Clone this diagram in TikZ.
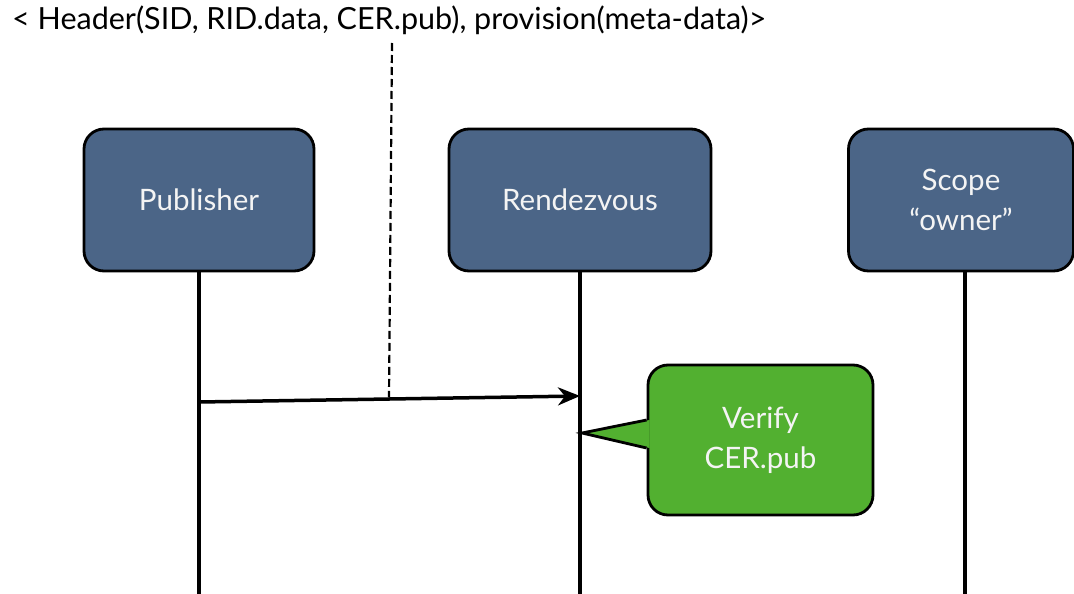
\documentclass[tikz,border=0pt]{standalone}
\usepackage{fontspec}
\setmainfont{Lato}
\usetikzlibrary{arrows.meta}

\definecolor{actorblue}{HTML}{4B6587}
\definecolor{notegreen}{HTML}{52B030}
\definecolor{labelwhite}{HTML}{F4F4F4}

\begin{document}
\begin{tikzpicture}[x=1pt,y=-1pt,
  actor/.style={draw=black,line width=2.8pt,fill=actorblue,rounded corners=20pt,
    minimum height=142pt,text=labelwhite,align=center,
    font=\fontsize{29.5}{40}\selectfont},
  note/.style={draw=black,line width=2.8pt,fill=notegreen,rounded corners=20pt,
    minimum width=225pt,minimum height=150pt,text=labelwhite,align=center,
    font=\fontsize{29.5}{40}\selectfont},
  lifeline/.style={line width=3.5pt},
  msg/.style={line width=3.5pt,-{Stealth[length=22pt,width=18pt,inset=7pt]}},
  tag/.style={line width=2.2pt,dash pattern=on 8pt off 4pt}]

\useasboundingbox (0,0) rectangle (1074,594);

% title line
\node[anchor=base west,inner sep=0pt,font=\fontsize{30.5}{34}\selectfont] (title)
  at (12,30) {< Header(SID, RID.data, CER.pub), provision(meta-data)>};

% participants
\node[actor,minimum width=230pt] (pub) at (199,200) {Publisher};
\node[actor,minimum width=262pt] (rdv) at (580,200) {Rendezvous};
\node[actor,minimum width=225pt] (scope) at (961,200) {Scope\\“owner”};

% lifeline ends
\coordinate (pubend) at (199,594);
\coordinate (rdvend) at (580,594);
\coordinate (scopeend) at (965,594);

\draw[lifeline] (pub.south) -- (pubend);
\draw[lifeline] (rdv.south) -- (rdvend);
\draw[lifeline] (scope.south -| scopeend) -- (scopeend);

% message
\coordinate (msgstart) at (199,402);
\coordinate (msgend) at (580,396);
\coordinate (msgmid) at (389,397.5);
\coordinate (tagtop) at (392,43);
\draw[msg] (msgstart) -- (msgend);
\draw[tag] (tagtop) -- (msgmid);

% verification note with pointer
\node[note] (verify) at (760.5,440) {Verify\\CER.pub};
\coordinate (tip) at (582,433);
\coordinate (ptrtop) at (verify.west |- 0,420);
\coordinate (ptrbot) at (verify.west |- 0,448);
\fill[notegreen] (tip) -- ([xshift=3pt]ptrtop) -- ([xshift=3pt]ptrbot) -- cycle;
\draw[line width=2.8pt,line join=miter] (ptrtop) -- (tip) -- (ptrbot);
\end{tikzpicture}
\end{document}
